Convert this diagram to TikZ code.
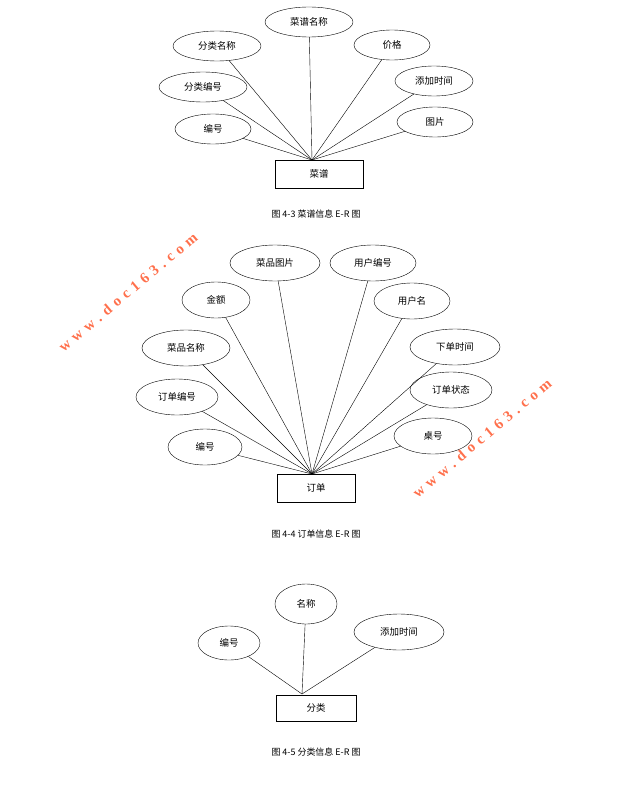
\documentclass[tikz,border=0pt]{standalone}
\usepackage{fontspec}
\setmainfont{Liberation Serif}
\newfontfamily\cjk{Noto Sans CJK SC}
\usetikzlibrary{shapes.geometric}
\tikzset{attr/.style={ellipse,draw,thin,inner sep=0pt,font=\cjk\fontsize{9.5}{9.5}\selectfont},
ent/.style={rectangle,draw,thin,font=\cjk\fontsize{9.5}{9.5}\selectfont},
captext/.style={font=\cjk\fontsize{9}{9}\selectfont},
wm/.style={text=red!60!orange!70,font=\bfseries\fontsize{15}{15}\selectfont,rotate=40}}
\begin{document}
\begin{tikzpicture}[x=1bp,y=-1bp]
\useasboundingbox (0,0) rectangle (633,800);
% diagram 1
\node[ent,minimum width=88bp,minimum height=28bp] (e1) at (319,174) {菜谱};
\coordinate (hubA) at (312,160);
\foreach \n/\x/\y/\w/\t in {a/309/22/88/菜谱名称,b/217/46/88/分类名称,c/392/45/76/价格,d/203/87/88/分类编号,e/434/81/78/添加时间,f/213/129/76/编号,g/435/122/76/图片}{
 \node[attr,minimum width=\w bp,minimum height=30bp] (p\n) at (\x,\y) {\t};
 \draw (p\n) -- (hubA);}
\node[captext] (t1) at (316,214) {图 4-3 菜谱信息 E-R 图};
% diagram 2
\node[ent,minimum width=78bp,minimum height=28bp] (e2) at (316,488) {订单};
\coordinate (hubB) at (312,474);
\foreach \n/\x/\y/\w/\t in {a/275/263/90/菜品图片,b/373/263/86/用户编号,c/216/300/68/金额,d/412/301/76/用户名,e/186/348/88/菜品名称,f/455/347/90/下单时间,g/177/397/82/订单编号,h/451/390/82/订单状态,i/205/447/74/编号,j/433/436/78/桌号}{
 \node[attr,minimum width=\w bp,minimum height=36bp] (q\n) at (\x,\y) {\t};
 \draw (q\n) -- (hubB);}
\node[captext] (t2) at (316,534) {图 4-4 订单信息 E-R 图};
% diagram 3
\node[ent,minimum width=80bp,minimum height=26bp] (e3) at (316,708) {分类};
\coordinate (hubC) at (302,694);
\node[attr,minimum width=62bp,minimum height=40bp] (ra) at (306,604) {名称};
\node[attr,minimum width=62bp,minimum height=34bp] (rb) at (229,643) {编号};
\node[attr,minimum width=90bp,minimum height=36bp] (rc) at (399,632) {添加时间};
\draw (ra) -- (hubC); \draw (rb) -- (hubC); \draw (rc) -- (hubC);
\node[captext] (t3) at (316,752) {图 4-5 分类信息 E-R 图};
% watermarks
\node[wm] (w1) at (128,292) {w\,\,w\,\,w\,\,.\,\,d\,\,o\,\,c\,\,1\,\,6\,\,3\,\,.\,\,c\,\,o\,\,m};
\node[wm] (w2) at (482,438) {w\,\,w\,\,w\,\,.\,\,d\,\,o\,\,c\,\,1\,\,6\,\,3\,\,.\,\,c\,\,o\,\,m};
\end{tikzpicture}
\end{document}
